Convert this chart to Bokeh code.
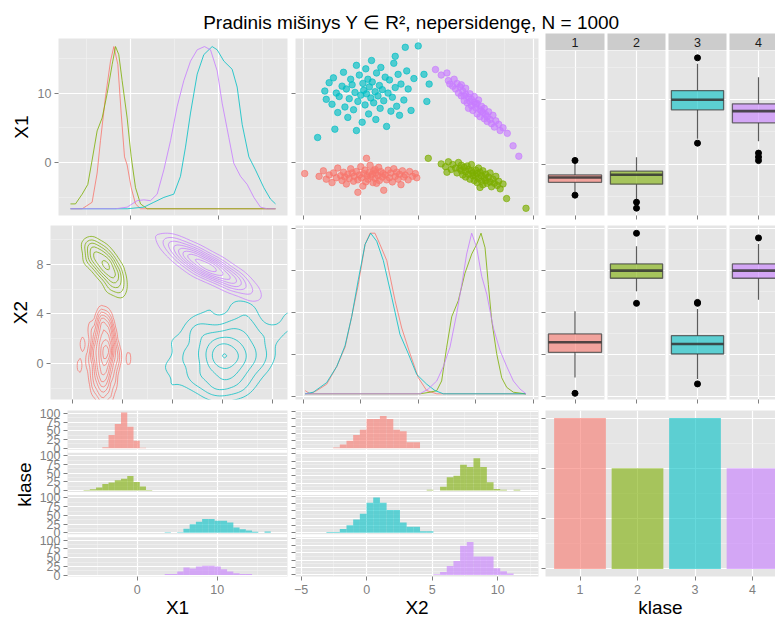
import numpy as np
import contourpy
from bokeh.plotting import figure
from bokeh.models import Range1d, FixedTicker, LinearAxis, Grid, CustomJSTickFormatter
from bokeh.layouts import row, column
from bokeh.core.properties import value
from bokeh.embed import file_html
from bokeh.resources import INLINE

TITLE = "Pradinis mišinys Y ∈ R², nepersidengę, N = 1000"
CLASSES = [1, 2, 3, 4]
CLASS_LABELS = ["1", "2", "3", "4"]
COLORS = ["#F8766D", "#7CAE00", "#00BFC4", "#C77CFF"]
CLASS_COUNTS = [300, 200, 300, 200]

# observations per class, as (X2, X1) pairs
pts_1 = [(-3.9, -1.6), (-2.9, -2.0), (-2.6, -1.2), (-2.4, -2.4), (-2.2, -1.8), (-2.0, -2.9), (-1.9, -1.5),
         (-1.7, -2.2), (-1.6, -0.8), (-1.4, -1.9), (-1.3, -2.6), (-1.2, -1.4), (-1.1, -2.1), (-1.0, -3.1),
         (-0.9, -1.7), (-0.8, -2.3), (-0.7, -0.9), (-0.6, -1.5), (-0.5, -2.7), (-0.45, -2.0), (-0.3, -1.3),
         (-0.2, -2.5), (-0.1, -1.8), (0.0, -0.6), (0.05, -2.2), (0.15, -3.4), (0.2, -1.6), (0.3, -1.1),
         (0.35, -2.8), (0.45, -1.9), (0.5, -2.4), (0.6, -1.4), (0.65, -0.4), (0.7, -2.0), (0.8, -1.7),
         (0.85, -2.9), (0.9, -1.2), (1.0, -2.3), (1.05, -1.5), (1.1, -3.0), (1.2, -1.9), (1.25, -0.7),
         (1.3, -2.6), (1.4, -1.3), (1.5, -2.1), (1.55, -1.6), (1.6, -4.0), (1.7, -1.8), (1.8, -2.5),
         (1.9, -1.1), (2.0, -2.2), (2.1, -1.5), (2.2, -2.8), (2.3, -0.9), (2.4, -2.0), (2.5, -1.4),
         (2.6, -2.4), (2.7, -1.7), (2.8, -3.2), (2.9, -1.2), (3.0, -2.1), (3.1, -1.8), (3.3, -2.5),
         (3.4, -1.3), (3.6, -2.0), (3.8, -1.6), (3.9, -2.2), (0.4, 0.6), (1.0, -1.0), (-0.2, -4.3)]
pts_2 = [(4.7, 0.6), (5.6, -0.2), (5.9, -0.6), (6.0, -1.4), (6.1, 0.1), (6.3, -1.0), (6.4, -0.3), (6.6, -0.8),
         (6.7, -1.5), (6.8, 0.0), (6.9, -0.9), (7.0, -1.2), (7.0, -0.4), (7.1, -1.8), (7.2, -0.7), (7.3, -1.3),
         (7.3, -2.1), (7.4, -0.5), (7.5, -1.0), (7.5, -1.7), (7.6, -2.4), (7.7, -1.2), (7.7, -0.3), (7.8, -1.9),
         (7.8, -1.5), (7.9, -2.6), (8.0, -1.1), (8.0, -2.0), (8.1, -1.6), (8.1, -2.9), (8.2, -0.8), (8.2, -2.3),
         (8.3, -1.4), (8.3, -3.6), (8.4, -2.7), (8.4, -1.9), (8.5, -3.2), (8.5, -1.2), (8.6, -2.2), (8.7, -2.6),
         (8.7, -1.7), (8.8, -3.0), (8.9, -2.1), (9.0, -2.8), (9.0, -1.5), (9.1, -3.5), (9.2, -2.4), (9.3, -3.0),
         (9.4, -2.0), (9.5, -3.3), (9.6, -2.7), (9.7, -3.8), (9.9, -3.1), (10.15, -5.2), (11.5, -6.6)]
pts_3 = [(-3.0, 3.6), (-2.5, 10.3), (-2.4, 9.1), (-2.2, 11.5), (-2.0, 8.4), (-1.9, 12.2), (-1.7, 10.0),
         (-1.6, 7.2), (-1.5, 9.5), (-1.3, 11.0), (-1.2, 13.0), (-1.1, 8.0), (-1.0, 10.6), (-0.9, 6.5),
         (-0.8, 9.2), (-0.7, 12.0), (-0.6, 11.2), (-0.5, 7.6), (-0.4, 10.1), (-0.3, 14.0), (-0.2, 8.8),
         (-0.1, 12.6), (0.0, 9.7), (0.1, 5.8), (0.15, 11.4), (0.2, 10.4), (0.3, 8.3), (0.35, 13.5),
         (0.4, 9.9), (0.5, 12.0), (0.55, 7.0), (0.6, 10.9), (0.7, 9.3), (0.75, 14.7), (0.8, 11.6),
         (0.9, 8.6), (1.0, 10.2), (1.05, 6.2), (1.1, 12.9), (1.2, 9.6), (1.3, 11.1), (1.35, 7.8),
         (1.4, 13.7), (1.5, 10.5), (1.6, 8.9), (1.7, 12.3), (1.8, 5.2), (1.9, 10.0), (2.0, 11.9),
         (2.1, 7.4), (2.2, 9.4), (2.3, 14.3), (2.4, 10.8), (2.5, 8.1), (2.6, 12.7), (2.7, 6.8),
         (2.8, 11.3), (3.0, 9.0), (3.1, 16.6), (3.2, 13.2), (3.3, 10.6), (3.5, 7.5), (3.7, 12.1),
         (4.0, 16.8), (4.4, 12.7), (4.6, 8.8), (4.76, 11.3), (-1.8, 4.8), (-0.3, 4.6), (2.4, 15.3)]
pts_4 = [(5.2, 13.4), (5.6, 12.6), (6.0, 12.9), (6.1, 11.8), (6.2, 11.3), (6.4, 11.0), (6.5, 12.0),
         (6.6, 10.6), (6.7, 11.4), (6.8, 10.0), (6.9, 10.9), (7.0, 9.6), (7.0, 11.2), (7.1, 10.3),
         (7.2, 8.9), (7.3, 9.8), (7.3, 10.7), (7.4, 8.6), (7.5, 9.4), (7.5, 7.8), (7.6, 9.9),
         (7.7, 8.2), (7.7, 9.1), (7.8, 7.5), (7.9, 8.7), (7.9, 9.5), (8.0, 7.9), (8.1, 8.5),
         (8.1, 7.0), (8.2, 9.0), (8.3, 7.6), (8.3, 6.6), (8.4, 8.1), (8.5, 7.2), (8.6, 6.3),
         (8.6, 7.8), (8.7, 6.9), (8.8, 5.9), (8.9, 7.3), (9.0, 6.2), (9.1, 5.6), (9.2, 6.8),
         (9.3, 5.1), (9.4, 6.0), (9.6, 5.5), (9.7, 4.6), (9.9, 5.0), (10.2, 4.2), (10.6, 2.4),
         (11.0, 0.9), (7.6, 8.8), (8.0, 8.4), (8.4, 7.4), (7.2, 9.6), (8.8, 6.6)]

# density of X1 per class: grid values and height relative to the peak
x1_dens_x_1 = [-6.82, -5.49, -4.36, -3.79, -3.41, -2.84, -2.27, -1.89, -1.44, -1.06, -0.68, -0.38, 0.08, 0.57, 1.14, 16.48]
x1_dens_h_1 = [0, 0, 0.04, 0.22, 0.42, 0.69, 0.91, 1.0, 0.89, 0.59, 0.32, 0.27, 0.13, 0.03, 0, 0]
x1_dens_x_2 = [-6.82, -6.25, -5.49, -4.85, -4.36, -3.79, -3.22, -2.65, -2.08, -1.70, -1.33, -0.95, -0.38, 0.08, 0.57, 1.14, 1.89, 16.48]
x1_dens_h_2 = [0.03, 0.03, 0.09, 0.15, 0.30, 0.48, 0.56, 0.71, 0.89, 1.0, 0.95, 0.79, 0.56, 0.32, 0.13, 0.03, 0, 0]
x1_dens_x_3 = [-6.82, -0.38, 1.52, 2.65, 3.79, 4.92, 5.68, 6.25, 6.82, 7.58, 8.33, 9.28, 9.85, 10.61, 11.55, 12.12, 12.69, 13.45, 14.2, 15.15, 15.9, 16.48]
x1_dens_h_3 = [0, 0, 0.01, 0.04, 0.07, 0.09, 0.2, 0.38, 0.59, 0.83, 0.95, 1.0, 0.98, 0.91, 0.86, 0.75, 0.52, 0.32, 0.24, 0.13, 0.06, 0.03]
x1_dens_x_4 = [-6.82, -1.70, -0.38, 0.76, 1.52, 2.27, 3.03, 3.79, 4.55, 5.30, 6.06, 6.82, 7.58, 8.41, 9.09, 9.85, 10.42, 11.17, 11.74, 12.5, 13.26, 14.02, 14.77, 15.53, 16.48]
x1_dens_h_4 = [0, 0, 0.01, 0.05, 0.055, 0.05, 0.09, 0.24, 0.42, 0.63, 0.79, 0.91, 0.98, 1.0, 0.98, 0.85, 0.65, 0.44, 0.28, 0.20, 0.15, 0.07, 0.01, 0, 0]

# density of X2 per class
x2_dens_x_1 = [-3.87, -3.53, -3.06, -2.37, -1.67, -1.09, -0.63, -0.17, 0.30, 0.65, 0.99, 1.34, 1.81, 2.39, 2.85, 3.43, 4.01, 4.59, 5.29, 11.5]
x2_dens_h_1 = [0.02, 0, 0.02, 0.06, 0.17, 0.29, 0.48, 0.68, 0.93, 1.0, 1.0, 0.93, 0.83, 0.58, 0.41, 0.25, 0.10, 0.02, 0, 0]
x2_dens_x_2 = [-3.87, 4.12, 4.82, 5.29, 5.63, 5.98, 6.33, 6.79, 7.25, 7.72, 8.07, 8.37, 8.65, 8.88, 9.11, 9.46, 9.81, 10.16, 10.62, 11.43, 11.5]
x2_dens_h_2 = [0, 0, 0.01, 0.02, 0.08, 0.29, 0.48, 0.58, 0.75, 0.87, 0.93, 1.0, 0.91, 0.68, 0.46, 0.25, 0.10, 0.04, 0.01, 0, 0]
x2_dens_x_3 = [-3.87, -3.30, -2.37, -1.67, -1.09, -0.63, -0.17, 0.30, 0.69, 1.11, 1.57, 2.16, 2.73, 3.31, 3.90, 4.59, 5.17, 5.75, 11.5]
x2_dens_h_3 = [0, 0.01, 0.07, 0.17, 0.30, 0.48, 0.71, 0.93, 1.0, 0.95, 0.83, 0.60, 0.37, 0.25, 0.12, 0.06, 0.02, 0, 0]
x2_dens_x_4 = [-3.87, 4.12, 4.70, 5.29, 5.75, 6.21, 6.68, 7.03, 7.37, 7.72, 8.07, 8.42, 8.77, 9.23, 9.69, 10.16, 10.62, 11.08, 11.5]
x2_dens_h_4 = [0, 0, 0.03, 0.08, 0.17, 0.29, 0.50, 0.68, 0.87, 1.0, 0.91, 0.73, 0.62, 0.41, 0.27, 0.17, 0.08, 0.03, 0]

# the diagonal densities are stretched over each variable's observed range
X1_SPAN = (-6.67, 16.71)
X2_SPAN = (-3.73, 11.52)

# histograms: common bins, first occupied bin index per class, counts
x1_bin_start, x1_bin_width = -6.7, 0.78
x1_hist_first = [3, 0, 13, 13]
x1_hist_1 = [3, 38, 70, 103, 62, 22, 2]
x1_hist_2 = [2, 4, 9, 19, 23, 30, 34, 42, 25, 12, 2]
x1_hist_3 = [2, 0, 2, 12, 25, 32, 40, 40, 35, 35, 30, 15, 10, 7, 3, 0, 4]
x1_hist_4 = [3, 3, 10, 22, 19, 25, 27, 27, 25, 17, 10, 5, 3, 3]

x2_bin_start, x2_bin_width = -3.07, 0.51
x2_hist_first = [1, 15, 0, 16]
x2_hist_1 = [1, 5, 10, 18, 25, 40, 40, 44, 40, 25, 23, 8, 8]
x2_hist_2 = [1, 0, 5, 18, 20, 35, 32, 44, 32, 11, 2, 1, 0, 1]
x2_hist_3 = [1, 1, 5, 10, 18, 26, 41, 48, 41, 31, 31, 14, 8, 8, 2, 2]
x2_hist_4 = [1, 4, 12, 19, 40, 45, 25, 25, 25, 9, 5, 2]

# boxplot statistics per class
x1_box_lo = [-4.26, -5.54, 3.95, 3.59]
x1_box_q1 = [-2.75, -3.03, 8.41, 6.41]
x1_box_med = [-2.0, -1.59, 9.95, 8.21]
x1_box_q3 = [-1.6, -1.03, 11.38, 9.33]
x1_box_hi = [0.35, 1.12, 15.49, 13.44]
x1_box_out = [[0.62, -4.72], [-5.8, -6.72], [16.41, 3.28], [1.75, 1.15, 0.6]]

x2_box_lo = [-2.17, 6.0, -2.32, 5.21]
x2_box_q1 = [0.21, 7.24, 0.05, 7.24]
x2_box_med = [1.16, 7.97, 1.0, 7.97]
x2_box_q3 = [1.96, 8.6, 1.79, 8.6]
x2_box_hi = [4.1, 10.28, 4.33, 10.5]
x2_box_out = [[-3.68], [11.51, 4.86], [4.86, 4.95, -2.79], [11.07]]

# ---------------------------------------------------------------- styling
FONT = "Liberation Sans"
PANEL_BG = "#E5E5E5"
MINOR_GRID = "#F2F2F2"
TICK_GREY = "#7F7F7F"
STRIP_BG = "#CCCCCC"
TICK_SIZE = "12.5px"
LABEL_SIZE = "19px"
BOX_HALF = 0.45
FACET_PX, GAP_PX = 39.25, 3.0   # stacked facet height and spacing

POINTS = [pts_1, pts_2, pts_3, pts_4]
X1_DENS = [(x1_dens_x_1, x1_dens_h_1), (x1_dens_x_2, x1_dens_h_2), (x1_dens_x_3, x1_dens_h_3), (x1_dens_x_4, x1_dens_h_4)]
X2_DENS = [(x2_dens_x_1, x2_dens_h_1), (x2_dens_x_2, x2_dens_h_2), (x2_dens_x_3, x2_dens_h_3), (x2_dens_x_4, x2_dens_h_4)]
X1_HIST = [x1_hist_1, x1_hist_2, x1_hist_3, x1_hist_4]
X2_HIST = [x2_hist_1, x2_hist_2, x2_hist_3, x2_hist_4]

X1_OBS = [np.array([p[1] for p in pts]) for pts in POINTS]
X2_OBS = [np.array([p[0] for p in pts]) for pts in POINTS]


def base_fig(w, h, xr, yr, borders, bg=PANEL_BG):
    bl, br, bt, bb = borders
    p = figure(width=w, height=h, x_range=Range1d(*xr), y_range=Range1d(*yr),
               x_axis_type=None, y_axis_type=None, toolbar_location=None,
               output_backend="svg", min_border_left=bl, min_border_right=br,
               min_border_top=bt, min_border_bottom=bb,
               background_fill_color=bg, border_fill_color="white",
               outline_line_color=None)
    p.title.visible = False
    return p


def add_grids(p, xmaj, xmin, ymaj, ymin):
    for dim, maj, mnr in ((0, xmaj, xmin), (1, ymaj, ymin)):
        g = Grid(dimension=dim, ticker=FixedTicker(ticks=maj, minor_ticks=mnr),
                 grid_line_color="white", grid_line_width=1.2,
                 minor_grid_line_color=MINOR_GRID, minor_grid_line_width=0.6)
        p.add_layout(g)


def add_axis(p, side, ticks, labels=False, title=None, standoff=3, formatter=None):
    ax = LinearAxis(ticker=FixedTicker(ticks=ticks, minor_ticks=[]),
                    axis_line_color=None, major_tick_in=0, major_tick_out=4,
                    major_tick_line_color=TICK_GREY, minor_tick_line_color=None)
    if labels:
        if formatter is not None:
            ax.formatter = formatter
        ax.major_label_text_font = FONT
        ax.major_label_text_font_size = TICK_SIZE
        ax.major_label_text_color = TICK_GREY
        ax.major_label_standoff = standoff
    else:
        ax.formatter = CustomJSTickFormatter(code="return ''")
        ax.major_label_text_font_size = "0px"
        ax.major_label_standoff = 0
    if title:
        ax.axis_label = title
        ax.axis_label_text_font = FONT
        ax.axis_label_text_font_size = LABEL_SIZE
        ax.axis_label_text_font_style = "normal"
        ax.axis_label_text_color = "black"
        ax.axis_label_standoff = 0 if side == "below" else 3
    p.add_layout(ax, side)


def kde2d(px, py, gx, gy, n_full):
    # Gaussian kernel estimate with normal-reference bandwidths for the full class size
    def bw(v):
        q75, q25 = np.percentile(v, [75, 25])
        return 1.06 * min(np.std(v, ddof=1), (q75 - q25) / 1.34) * n_full ** (-0.2)

    hx, hy = bw(px), bw(py)
    kx = np.exp(-0.5 * ((gx[None, :] - px[:, None]) / hx) ** 2)
    ky = np.exp(-0.5 * ((gy[None, :] - py[:, None]) / hy) ** 2)
    return ky.T @ kx / (len(px) * 2 * np.pi * hx * hy)


def pretty_levels(zmax, n=10):
    raw = zmax / n
    mag = 10 ** np.floor(np.log10(raw))
    step = next(m * mag for m in (1, 2, 5, 10) if raw <= m * mag)
    return np.arange(step, zmax, step)


def draw_box(p, lo, q1, med, q3, hi, outs, color):
    p.segment(x0=[1, 1], y0=[lo, q3], x1=[1, 1], y1=[q1, hi],
              line_color="#333333", line_alpha=0.8, line_width=1.2)
    p.quad(left=[1 - BOX_HALF], right=[1 + BOX_HALF], bottom=[q1], top=[q3],
           fill_color=color, fill_alpha=0.6, line_color="#333333", line_alpha=0.7, line_width=1.3)
    p.segment(x0=[1 - BOX_HALF], x1=[1 + BOX_HALF], y0=[med], y1=[med],
              line_color="#333333", line_alpha=0.85, line_width=2.6)
    p.scatter(x=[1] * len(outs), y=outs, size=6, fill_color="black", line_color="black")


def facet_stack(width, borders, xr, xmaj, xmin, facet_range, ymaj, ymin, hists, first, start, bw,
                show_labels, bottom_ticks, bottom_title):
    """Four histogram facets stacked in one frame, each with its own count offset."""
    lo, hi = facet_range
    step = (hi - lo) * (FACET_PX + GAP_PX) / FACET_PX
    offsets = [(3 - k) * step for k in range(4)]
    p = base_fig(width, 215, xr, (lo, hi + 3 * step), borders)
    add_grids(p, xmaj, xmin, [o + t for o in offsets for t in ymaj], [o + t for o in offsets for t in ymin])
    # white spacing between facet panels
    p.quad(left=xr[0], right=xr[1], bottom=[offsets[k] + hi for k in range(1, 4)],
           top=[offsets[k] + step + lo for k in range(1, 4)], fill_color="white", line_color=None)
    fmt = CustomJSTickFormatter(args=dict(step=step, lo=lo),
                                code="return String(Math.round(tick - Math.floor((tick - lo) / step) * step));")
    add_axis(p, "left", [o + t for o in offsets for t in ymaj], labels=show_labels, formatter=fmt)
    add_axis(p, "below", bottom_ticks, labels=True, title=bottom_title, standoff=4)
    for k in range(4):
        counts = np.array(hists[k])
        left = start + (first[k] + np.arange(len(counts))) * bw
        p.quad(left=left, right=left + bw, bottom=offsets[k], top=offsets[k] + counts,
               fill_color=COLORS[k], fill_alpha=0.6, line_color=None)
    return p


# ---------------------------------------------------------------- title
title_fig = figure(width=775, height=33, x_range=Range1d(0, 775), y_range=Range1d(0, 33),
                   x_axis_type=None, y_axis_type=None, toolbar_location=None,
                   output_backend="svg", min_border=0, outline_line_color=None,
                   background_fill_color="white", border_fill_color="white")
title_fig.title.visible = False
title_fig.text(x=[411], y=[11.5], text=[TITLE], text_align="center", text_baseline="middle",
               text_font=value(FONT), text_font_size=LABEL_SIZE, text_color="black")

# facet geometry of the klase column (last facet runs past the page edge)
FACET_W = [65, 61, 61, 47]
FACET_BL = [4, 1, 1, 1]
FACET_BR = [2, 2, 2, 0]
FACET_XR = [(0.5, 1.5), (0.5, 1.5), (0.5, 1.5), (0.5, 0.5 + 46 / 58)]

# ---------------------------------------------------------------- row 1 (X1)
ROW1_Y = (-7.64, 17.87)
r1c1 = base_fig(291, 189, (-8.18, 17.84), ROW1_Y, (58, 4, 5, 7))
add_grids(r1c1, [0, 10], [-5, 5, 15], [0, 10], [-5, 5, 15])
add_axis(r1c1, "left", [0, 10], labels=True, title="X1")
add_axis(r1c1, "below", [0, 10])
lo, hi = X1_SPAN
for k, (dx, dh) in enumerate(X1_DENS):
    r1c1.line(dx, lo + np.array(dh) * (hi - lo), line_color=COLORS[k], line_alpha=0.8, line_width=1)

r1c2 = base_fig(250, 189, (-4.54, 12.37), ROW1_Y, (4, 3, 5, 7))
add_grids(r1c2, [-4, 0, 4, 8, 12], [-2, 2, 6, 10], [0, 10], [-5, 5, 15])
add_axis(r1c2, "left", [0, 10])
add_axis(r1c2, "below", [-4, 0, 4, 8, 12])
for k in range(4):
    r1c2.scatter(X2_OBS[k], X1_OBS[k], size=6.5, fill_color=COLORS[k], fill_alpha=0.65,
                 line_color=COLORS[k], line_alpha=0.65)

strips, box1 = [], []
for k in range(4):
    s = base_fig(FACET_W[k], 17, FACET_XR[k], (0, 1), (FACET_BL[k], FACET_BR[k], 0, 0), bg=STRIP_BG)
    s.text(x=[1], y=[0.45], text=[CLASS_LABELS[k]], text_align="center", text_baseline="middle",
           text_font=value(FONT), text_font_size=TICK_SIZE, text_color="#1A1A1A")
    strips.append(s)
    f = base_fig(FACET_W[k], 172, FACET_XR[k], (-7.85, 17.54), (FACET_BL[k], FACET_BR[k], 0, 7))
    add_grids(f, [1], [], [0, 10], [-5, 5, 15])
    if k == 0:
        add_axis(f, "left", [0, 10])
    add_axis(f, "below", [1])
    draw_box(f, x1_box_lo[k], x1_box_q1[k], x1_box_med[k], x1_box_q3[k], x1_box_hi[k], x1_box_out[k], COLORS[k])
    box1.append(f)

# ---------------------------------------------------------------- row 2 (X2)
r2c1 = base_fig(291, 183, (-7.2, 16.5), (-2.91, 11.15), (50, 4, 3, 6))
add_grids(r2c1, [-5, 0, 5, 10, 15], [-2.5, 2.5, 7.5, 12.5], [0, 4, 8], [-2, 2, 6, 10])
add_axis(r2c1, "left", [0, 4, 8], labels=True, title="X2")
add_axis(r2c1, "below", [-5, 0, 5, 10, 15])
all_x1 = np.concatenate(X1_OBS)
all_x2 = np.concatenate(X2_OBS)
gx = np.linspace(all_x1.min(), all_x1.max(), 100)
gy = np.linspace(all_x2.min(), all_x2.max(), 100)
for k in range(4):
    z = kde2d(X1_OBS[k], X2_OBS[k], gx, gy, CLASS_COUNTS[k])
    gen = contourpy.contour_generator(gx, gy, z)
    xs, ys = [], []
    for lev in pretty_levels(z.max()):
        for seg in gen.lines(lev):
            xs.append(seg[:, 0])
            ys.append(seg[:, 1])
    r2c1.multi_line(xs, ys, line_color=COLORS[k], line_alpha=0.75, line_width=1)

ROW2_Y = (-4.27, 12.25)
r2c2 = base_fig(250, 183, (-4.54, 12.37), ROW2_Y, (4, 3, 3, 6))
add_grids(r2c2, [-4, 0, 4, 8, 12], [-2, 2, 6, 10], [-4, 0, 4, 8, 12], [-2, 2, 6, 10])
add_axis(r2c2, "left", [-4, 0, 4, 8, 12])
add_axis(r2c2, "below", [-4, 0, 4, 8, 12])
lo, hi = X2_SPAN
for k, (dx, dh) in enumerate(X2_DENS):
    r2c2.line(dx, lo + np.array(dh) * (hi - lo), line_color=COLORS[k], line_alpha=0.8, line_width=1)

box2 = []
for k in range(4):
    f = base_fig(FACET_W[k], 183, FACET_XR[k], ROW2_Y, (FACET_BL[k], FACET_BR[k], 3, 6))
    add_grids(f, [1], [], [-4, 0, 4, 8, 12], [-2, 2, 6, 10])
    if k == 0:
        add_axis(f, "left", [-4, 0, 4, 8, 12])
    add_axis(f, "below", [1])
    draw_box(f, x2_box_lo[k], x2_box_q1[k], x2_box_med[k], x2_box_q3[k], x2_box_hi[k], x2_box_out[k], COLORS[k])
    box2.append(f)

# ---------------------------------------------------------------- row 3 (klase)
klase_fig = figure(width=36, height=215, x_range=Range1d(0, 36), y_range=Range1d(0, 215),
                   x_axis_type=None, y_axis_type=None, toolbar_location=None,
                   output_backend="svg", min_border=0, outline_line_color=None,
                   background_fill_color="white", border_fill_color="white")
klase_fig.title.visible = False
klase_fig.text(x=[24], y=[119], text=["klase"], angle=np.pi / 2, text_align="center",
               text_baseline="middle", text_font=value(FONT), text_font_size=LABEL_SIZE,
               text_color="black")

hist_x1 = facet_stack(255, (31, 4, 5, 44), (-8.71, 18.79), [0, 10], [-5, 5, 15], (-4, 108.5),
                      [0, 25, 50, 75, 100], [12.5, 37.5, 62.5, 87.5], X1_HIST, x1_hist_first,
                      x1_bin_start, x1_bin_width, True, [0, 10], "X1")
hist_x2 = facet_stack(250, (4, 3, 5, 44), (-5.43, 13.11), [-5, 0, 5, 10], [-2.5, 2.5, 7.5, 12.5], (-2.2, 51.5),
                      [0, 10, 20, 30, 40, 50], [5, 15, 25, 35, 45], X2_HIST, x2_hist_first,
                      x2_bin_start, x2_bin_width, False, [-5, 0, 5, 10], "X2")

bar_fig = base_fig(234, 215, (0.4, 4.4), (-15, 315), (4, 0, 5, 44))
add_grids(bar_fig, CLASSES, [], [0, 100, 200, 300], [50, 150, 250])
add_axis(bar_fig, "left", [0, 100, 200, 300])
add_axis(bar_fig, "below", CLASSES, labels=True, title="klase", standoff=4)
bar_fig.vbar(x=CLASSES, top=CLASS_COUNTS, bottom=0, width=0.9, fill_color=COLORS,
             fill_alpha=0.6, line_color=None)

# ---------------------------------------------------------------- layout
row1 = row(r1c1, r1c2, column(row(*strips), row(*box1)))
row2 = row(r2c1, r2c2, row(*box2))
row3 = row(klase_fig, hist_x1, hist_x2, bar_fig)
layout = column(title_fig, row1, row2, row3)

open("out.html", "w").write(file_html(layout, INLINE))
